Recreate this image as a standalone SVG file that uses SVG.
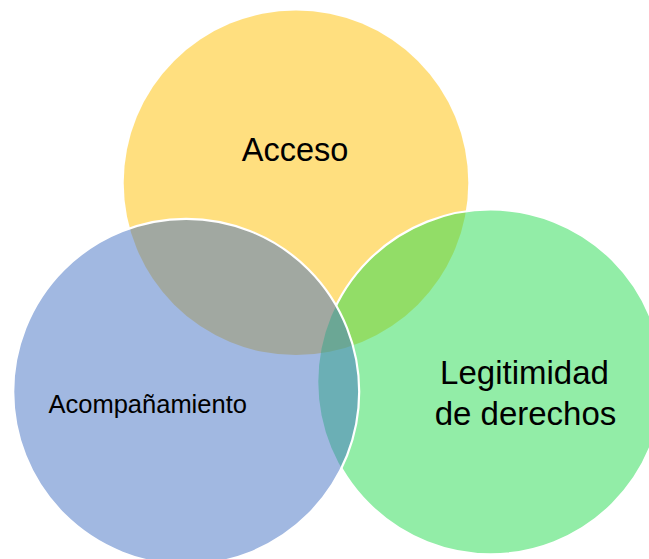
<svg xmlns="http://www.w3.org/2000/svg" width="649" height="559" viewBox="0 0 649 559">
  <style>
    .fill { stroke: none; fill-opacity: 0.5; }
    .edge { fill: none; stroke: #ffffff; stroke-width: 2.2; }
    .lbl { font-family: "Liberation Sans", Arial, sans-serif; fill: #000000; text-anchor: middle; }
  </style>
  <defs>
    <mask id="outsideBlue" maskUnits="userSpaceOnUse" x="0" y="0" width="649" height="559">
      <rect x="0" y="0" width="649" height="559" fill="#ffffff"/>
      <circle cx="186.2" cy="391.8" r="173" fill="#000000"/>
    </mask>
  </defs>
  <rect x="0" y="0" width="649" height="559" fill="#ffffff"/>
  <g id="acceso">
    <circle class="fill" cx="296" cy="182.8" r="172.3" fill="#FFC000"/>
    <text class="lbl" x="295" y="161" font-size="32.5">Acceso</text>
  </g>
  <g id="legitimidad">
    <circle class="fill" cx="490.7" cy="381.9" r="172.4" fill="#25DB4F"/>
    <circle class="edge" cx="490.7" cy="381.9" r="172.4" mask="url(#outsideBlue)"/>
  </g>
  <g id="acompanamiento">
    <circle class="fill" cx="186.2" cy="391.8" r="173" fill="#4472C4"/>
    <circle class="edge" cx="186.2" cy="391.8" r="173"/>
    <text class="lbl" x="147.7" y="412.7" font-size="25.5">Acompañamiento</text>
  </g>
  <g id="legitimidad-label">
    <text class="lbl" x="524.5" y="384.3" font-size="33">Legitimidad</text>
    <text class="lbl" x="525.5" y="425" font-size="33">de derechos</text>
  </g>
  <g id="connectors"></g>
</svg>
